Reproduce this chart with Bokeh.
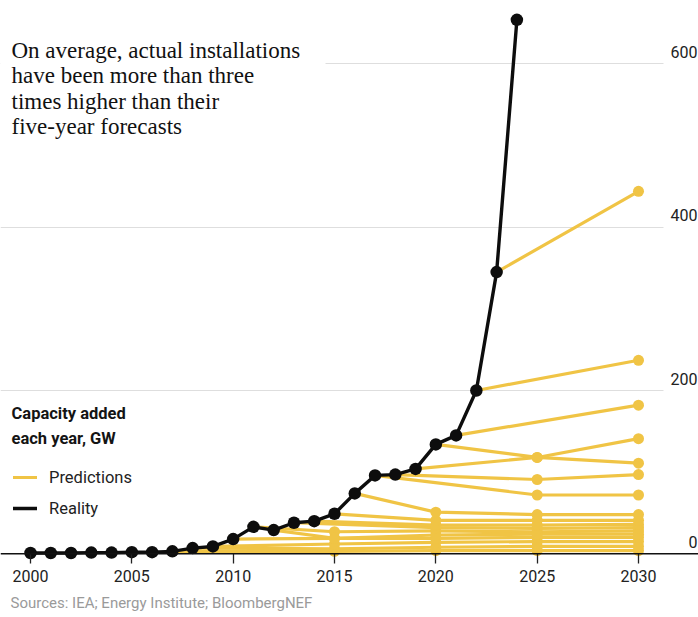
from bokeh.plotting import figure
from bokeh.models import (Range1d, FixedTicker, Span, Label, BoxAnnotation,
                          Legend, LegendItem, ColumnDataSource, Title)
from bokeh.core.properties import value
from bokeh.embed import file_html
from bokeh.resources import INLINE

# ---------------- data ----------------
reality_years = list(range(2000, 2025))
reality_gw = [1, 1, 1, 1.5, 1.5, 2, 2, 3, 7, 9, 18, 33, 29, 38, 40, 49,
              74, 96, 97, 104, 134, 145, 200, 345, 654]

forecast_years = [
    [2007, 2015, 2020, 2025, 2030],
    [2008, 2015, 2020, 2025, 2030],
    [2009, 2015, 2020, 2025, 2030],
    [2010, 2015, 2020, 2025, 2030],
    [2011, 2015, 2020, 2025, 2030],
    [2012, 2015, 2020, 2025, 2030],
    [2013, 2020, 2025, 2030],
    [2014, 2020, 2025, 2030],
    [2015, 2020, 2025, 2030],
    [2016, 2020, 2025, 2030],
    [2017, 2025, 2030],
    [2018, 2025, 2030],
    [2019, 2025, 2030],
    [2020, 2025, 2030],
    [2021, 2030],
    [2022, 2030],
    [2023, 2030],
]
forecast_gw = [
    [3, 3, 4, 4, 4],
    [7, 6, 8, 9, 9],
    [9, 12, 14, 15, 15],
    [18, 19, 19, 20, 20],
    [33, 27, 28, 27, 28],
    [29, 19, 23, 24, 24],
    [38, 32, 31, 32],
    [40, 35, 35, 36],
    [49, 41, 41, 41],
    [74, 51, 48, 48],
    [96, 72, 72],
    [97, 91, 97],
    [104, 118, 141],
    [134, 118, 111],
    [145, 182],
    [200, 237],
    [345, 444],
]

x_ticks = [2000, 2005, 2010, 2015, 2020, 2025, 2030]
y_ticks = [0, 200, 400, 600]
grid_ticks = [200, 400, 600]

title_lines = ["On average, actual installations",
               "have been more than three",
               "times higher than their",
               "five-year forecasts"]
legend_heading = ["Capacity added", "each year, GW"]
source_text = "Sources: IEA; Energy Institute; BloombergNEF"

YELLOW = "#F0C445"
BLACK = "#0d0d0d"

# ---------------- geometry (page px -> data) ----------------
PXY = (638 - 30) / 30.0      # px per year
PXG = 163.3 / 200.0          # px per GW
Y0 = 553.3                   # page y of 0 GW
FRAME_BOTTOM = 560


def xd(px):
    return 2000 + (px - 30) / PXY


def yd(py):
    return (Y0 - py) / PXG


W, H = 698, 617
p = figure(width=W, height=H, output_backend="svg", toolbar_location=None,
           x_range=Range1d(xd(0), xd(W)), y_range=Range1d(yd(FRAME_BOTTOM), yd(0)),
           y_axis_location=None, min_border_left=0, min_border_right=0,
           min_border_top=0, min_border_bottom=H - FRAME_BOTTOM)
p.outline_line_color = None
p.background_fill_color = "white"
p.border_fill_color = "white"

# grid
p.xgrid.visible = False
p.ygrid.ticker = FixedTicker(ticks=grid_ticks)
p.ygrid.grid_line_color = "#dedede"
p.ygrid.grid_line_width = 1

# white cover boxes (title block, right label column)
p.add_layout(BoxAnnotation(left=xd(0), right=xd(325), top=yd(34), bottom=yd(140),
                           fill_color="white", fill_alpha=1, line_color=None,
                           level="underlay"))
p.add_layout(BoxAnnotation(left=xd(663), right=xd(W), top=yd(0), bottom=yd(546),
                           fill_color="white", fill_alpha=1, line_color=None,
                           level="underlay"))

# x axis
ax = p.xaxis[0]
ax.ticker = FixedTicker(ticks=x_ticks)
ax.axis_line_color = None
ax.major_tick_line_color = "#222222"
ax.major_tick_line_width = 1.3
ax.major_tick_in = 7
ax.major_tick_out = 3
ax.minor_tick_line_color = None
ax.major_label_text_font = "Roboto"
ax.major_label_text_font_size = "16px"
ax.major_label_text_color = "#222222"
ax.major_label_standoff = 6

# small spacer, then the source note below the axis
p.add_layout(Title(text=" ", text_font_size="2px", standoff=0), "below")
p.add_layout(Title(text=source_text, align="left", offset=10, standoff=6,
                   text_font="Roboto", text_font_size="15px",
                   text_font_style="normal", text_color="#9a9a9a"), "below")

# baseline
p.add_layout(Span(location=0, dimension="width", line_color="#111111", line_width=1.6))

# predictions
first_pred = None
for yrs, vals in zip(forecast_years, forecast_gw):
    src = ColumnDataSource(dict(x=yrs, y=vals))
    r = p.line("x", "y", source=src, line_color=YELLOW, line_width=3.2,
               line_cap="round", line_join="round")
    p.scatter("x", "y", source=src, size=11, fill_color=YELLOW, line_color=None)
    if first_pred is None:
        first_pred = r

# reality
rsrc = ColumnDataSource(dict(x=reality_years, y=reality_gw))
real_line = p.line("x", "y", source=rsrc, line_color=BLACK, line_width=3.4,
                   line_cap="round", line_join="round")
p.scatter("x", "y", source=rsrc, size=12.5, fill_color=BLACK, line_color=None)

# y tick labels (above grid lines, right-aligned)
tsrc = ColumnDataSource(dict(x=[xd(697)] * len(y_ticks), y=y_ticks,
                             t=[str(t) for t in y_ticks]))
p.text("x", "y", text="t", source=tsrc, text_align="right",
       text_baseline="alphabetic", y_offset=-12,
       text_font=value("Roboto"), text_font_size="16px", text_color="#222222")

# title
for i, line in enumerate(title_lines):
    p.add_layout(Label(x=xd(11), y=yd(49.5 + i * 25.6), text=line,
                       text_baseline="alphabetic", text_font="Liberation Serif",
                       text_font_size="23px", text_color="#111111"))

# legend heading
for i, line in enumerate(legend_heading):
    p.add_layout(Label(x=xd(11), y=yd(413 + i * 24.5), text=line,
                       text_baseline="alphabetic", text_font="Roboto",
                       text_font_style="bold", text_font_size="16.5px",
                       text_color="#141414"))

legend = Legend(items=[LegendItem(label="Predictions", renderers=[first_pred]),
                       LegendItem(label="Reality", renderers=[real_line])],
                location=(13, FRAME_BOTTOM - 518), orientation="vertical",
                glyph_width=24, glyph_height=20, label_height=20, spacing=11,
                padding=0, margin=0, border_line_color=None,
                background_fill_alpha=0, label_standoff=12,
                label_text_font="Roboto", label_text_font_size="16.5px",
                label_text_color="#222222")
p.add_layout(legend)

open("out.html", "w").write(file_html(p, INLINE))
